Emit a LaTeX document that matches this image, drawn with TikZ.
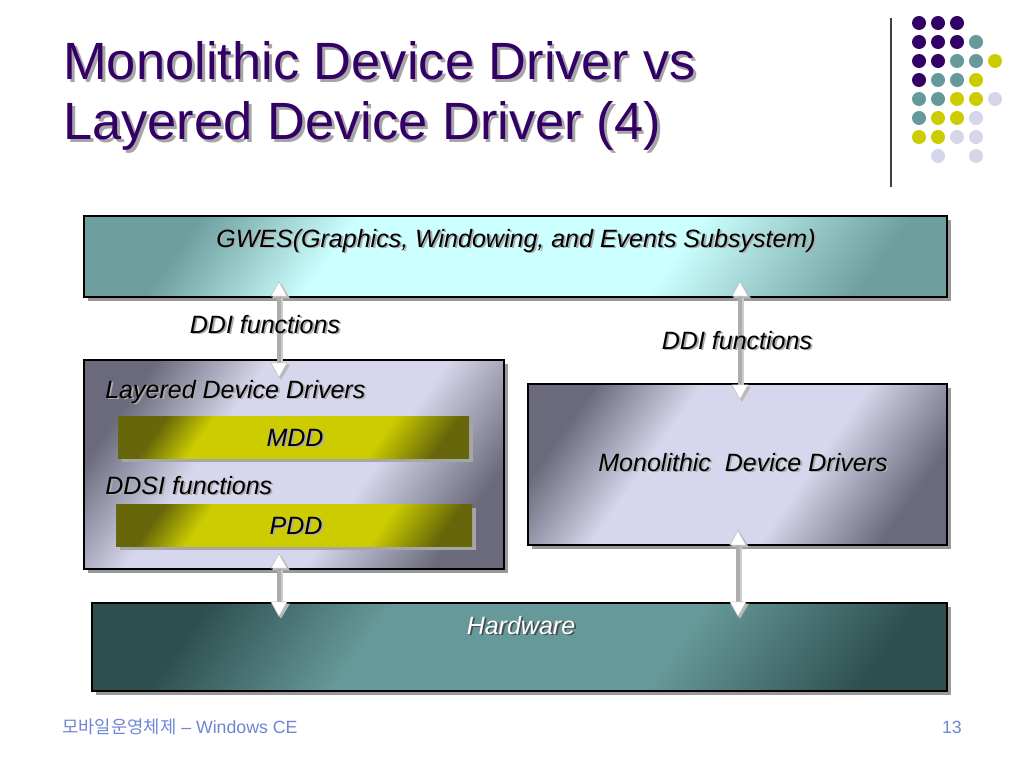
\documentclass[tikz,border=0pt]{standalone}
\usepackage{fontspec}
\setmainfont{Liberation Sans}
\newfontfamily\kofont{Noto Sans CJK KR}
\usetikzlibrary{arrows.meta,shadows,fit}

\definecolor{titlepurple}{HTML}{330066}
\definecolor{dotP}{HTML}{330066}
\definecolor{dotT}{HTML}{669999}
\definecolor{dotY}{HTML}{CCCC00}
\definecolor{dotL}{HTML}{D6D6EA}
\definecolor{footblue}{HTML}{6F86D6}
\definecolor{cyanlt}{HTML}{CCFFFF}
\definecolor{gwesdk}{HTML}{6E9E9E}
\definecolor{tealmd}{HTML}{669999}
\definecolor{tealdk}{HTML}{2F4F4F}
\definecolor{lavlt}{HTML}{D6D6EC}
\definecolor{lavdk}{HTML}{6A6A7C}
\definecolor{yelmd}{HTML}{CCCC00}
\definecolor{yeldk}{HTML}{66660A}

% diagonal panel fills
\pgfdeclarehorizontalshading{gwesshade}{100bp}{color(0bp)=(gwesdk); color(24bp)=(gwesdk); color(36bp)=(cyanlt); color(62bp)=(cyanlt); color(78bp)=(gwesdk); color(100bp)=(gwesdk)}
\pgfdeclarehorizontalshading{lavshade}{100bp}{color(0bp)=(lavdk); color(24bp)=(lavdk); color(38bp)=(lavlt); color(60bp)=(lavlt); color(76bp)=(lavdk); color(100bp)=(lavdk)}
\pgfdeclarehorizontalshading{yelshade}{100bp}{color(0bp)=(yeldk); color(24bp)=(yeldk); color(33bp)=(yelmd); color(66bp)=(yelmd); color(78bp)=(yeldk); color(100bp)=(yeldk)}
\pgfdeclarehorizontalshading{hwshade}{100bp}{color(0bp)=(tealdk); color(24bp)=(tealdk); color(38bp)=(tealmd); color(62bp)=(tealmd); color(78bp)=(tealdk); color(100bp)=(tealdk)}

% text with a grey drop shadow
\newcommand\shtext[2][gray!65]{\leavevmode\rlap{\kern1.3pt\raisebox{-1.3pt}{\textcolor{#1}{#2}}}#2}
\newcommand\shtitle[1]{\leavevmode\rlap{\kern2pt\raisebox{-2pt}{\textcolor{gray!70}{#1}}}#1}

\tikzset{
  panel/.style={inner sep=0pt, draw=black, line width=1.3pt,
    drop shadow={shadow xshift=3pt, shadow yshift=-3pt, fill=gray!80, opacity=1}},
  subpanel/.style={inner sep=0pt, draw=none,
    drop shadow={shadow xshift=2.5pt, shadow yshift=-2.5pt, fill=gray!70, opacity=1}},
  boxtext/.style={inner sep=0pt, font=\itshape\fontsize{17.8}{20}\selectfont},
  titletext/.style={inner sep=0pt, text=titlepurple, font=\fontsize{37.3}{42}\selectfont},
  foottext/.style={inner sep=0pt, text=footblue, font=\fontsize{12.6}{14}\selectfont},
  ddihead/.tip={Triangle[width=12pt, length=11pt, fill=white, color=gray!50, line width=0.4pt]},
  ddishadehead/.tip={Triangle[width=12pt, length=11pt, fill=gray!55, color=gray!55]},
  ddiarrow/.style={draw=gray!65, line width=2.8pt, {ddihead}-{ddihead}},
  ddishade/.style={draw=gray!40, line width=2.8pt, transform canvas={shift={(1.4pt,-1.4pt)}},
    {ddishadehead}-{ddishadehead}}
}

\begin{document}
\begin{tikzpicture}[x=0.025cm, y=-0.025cm]
  \useasboundingbox[fill=white] (0,0) rectangle (1024,768);

  % title
  \node[titletext, anchor=base west] (title1) at (63,80) {\shtitle{Monolithic Device Driver vs}};
  \node[titletext, anchor=base west] (title2) at (63,140) {\shtitle{Layered Device Driver (4)}};

  % logo: rule and dots
  \draw[line width=1pt, black!75] (891,18) -- (891,187);
  \foreach \r/\row in {0/{P,P,P}, 1/{P,P,P,T}, 2/{P,P,T,T,Y}, 3/{P,T,T,Y},
                       4/{T,T,Y,Y,L}, 5/{T,Y,Y,L}, 6/{Y,Y,L,L}, 7/{N,L,N,L}}
    \foreach \k [count=\c from 0] in \row {
      \if N\k\else
        \fill[dot\k] (919+19*\c, 23+19*\r) circle (0.175cm);
      \fi
    };

  % panels
  \node[panel, fit={(84,216) (947,297)}, shading=gwesshade, shading angle=-35] (gwes) {};
  \node[panel, fit={(84,360) (504,569)}, shading=lavshade, shading angle=-35] (ldd) {};
  \node[subpanel, fit={(118,416) (469,458)}, shading=yelshade, shading angle=-35] (mdd) {};
  \node[subpanel, fit={(116,504) (472,546)}, shading=yelshade, shading angle=-35] (pdd) {};
  \node[panel, fit={(528,384) (947,545)}, shading=lavshade, shading angle=-35] (mono) {};
  \node[panel, fit={(92,603) (947,691)}, shading=hwshade, shading angle=-35] (hw) {};

  % arrow ends
  \coordinate (ddiLtop) at (279,281);
  \coordinate (ddiLbot) at (279,378);
  \coordinate (ddiRtop) at (740,281);
  \coordinate (ddiRbot) at (740,400);
  \coordinate (hwLtop) at (279,553);
  \coordinate (hwLbot) at (279,617);
  \coordinate (hwRtop) at (738,530);
  \coordinate (hwRbot) at (738,617);

  \foreach \a/\b in {ddiLtop/ddiLbot, ddiRtop/ddiRbot, hwLtop/hwLbot, hwRtop/hwRbot} {
    \draw[ddishade] (\a) -- (\b);
    \draw[ddiarrow] (\a) -- (\b);
  }

  % labels
  \node[boxtext, anchor=base] (gwestxt) at (516,247) {\shtext{GWES(Graphics, Windowing, and Events Subsystem)}};
  \node[boxtext, anchor=base] (ddiL) at (265,333) {\shtext{DDI functions}};
  \node[boxtext, anchor=base] (ddiR) at (737,349) {\shtext{DDI functions}};
  \node[boxtext, anchor=base west] (lddtxt) at (105,398) {\shtext{Layered Device Drivers}};
  \node[boxtext, anchor=base] (mddtxt) at (295,446) {\shtext{MDD}};
  \node[boxtext, anchor=base west] (ddsi) at (105,494) {\shtext{DDSI functions}};
  \node[boxtext, anchor=base] (pddtxt) at (296,534) {\shtext{PDD}};
  \node[boxtext, anchor=base] (monotxt) at (743,471) {\shtext{Monolithic\ \ Device Drivers}};
  \node[boxtext, anchor=base, text=white] (hwtxt) at (521,634) {\shtext[black!70]{Hardware}};

  % footer
  \node[foottext, anchor=base west] (foot) at (62,733) {{\kofont 모바일운영체제} – Windows CE};
  \node[foottext, anchor=base east] (page) at (962,733) {13};
\end{tikzpicture}
\end{document}
